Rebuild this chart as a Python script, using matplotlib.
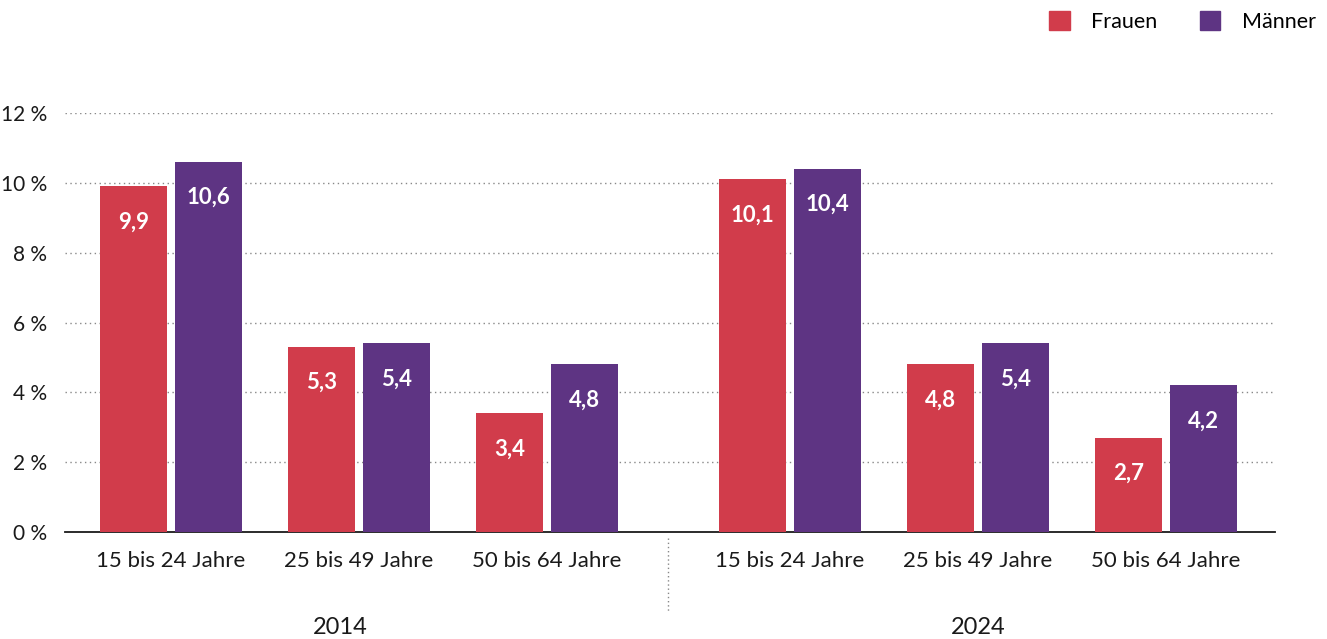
import numpy as np
import matplotlib
matplotlib.use("Agg")
import matplotlib.pyplot as plt
from matplotlib.patches import Patch

plt.rcParams['font.family'] = ['Lato', 'DejaVu Sans']

# Daten
years = ["2014", "2024"]
age_groups = ["15 bis 24 Jahre", "25 bis 49 Jahre", "50 bis 64 Jahre"]
frauen = [9.9, 5.3, 3.4, 10.1, 4.8, 2.7]
maenner = [10.6, 5.4, 4.8, 10.4, 5.4, 4.2]
y_ticks = [0, 2, 4, 6, 8, 10, 12]

red = "#D13C4B"
purple = "#5E3483"
txt = "#1a1a1a"

# Positionen: zwei Gruppen mit Lücke
group_gap = 3.29
x = np.concatenate([np.arange(3), np.arange(3) + group_gap])
w = 0.357
off = 0.2

fig = plt.figure(figsize=(13.27, 6.39), dpi=100)
ax = fig.add_axes([0.049, 0.1674, 0.912, 0.6557])

ax.bar(x - off, frauen, w, color=red, zorder=3)
ax.bar(x + off, maenner, w, color=purple, zorder=3)

# Werte in den Balken
for xs, vals in [(x - off, frauen), (x + off, maenner)]:
    for xi, v in zip(xs, vals):
        ax.text(xi, v - 1.02, f"{v:.1f}".replace(".", ","), ha='center', va='center',
                color='white', fontsize=16, fontweight='bold', zorder=4)

ax.set_ylim(0, 12)
ax.set_xlim(-0.564, 5.872)
ax.set_yticks(y_ticks)
ax.set_yticklabels([f"{t} %" for t in y_ticks], fontsize=15, color=txt)
ax.tick_params(axis='y', length=0, pad=13)

ax.set_xticks(x)
ax.set_xticklabels(age_groups * 2, fontsize=16, color=txt)
ax.tick_params(axis='x', length=0, pad=14)

for t in y_ticks[1:]:
    ax.axhline(t, color='#888888', lw=1.0, ls=(0, (1, 2.5)), zorder=1)

for s in ['top', 'right', 'left']:
    ax.spines[s].set_visible(False)
ax.spines['bottom'].set_color(txt)
ax.spines['bottom'].set_linewidth(1.3)

# Jahreslabels und Trenner
ax.text(0.9, -0.229, years[0], transform=ax.get_xaxis_transform(),
        ha='center', va='center', fontsize=17, color=txt)
ax.text(1 + group_gap, -0.229, years[1], transform=ax.get_xaxis_transform(),
        ha='center', va='center', fontsize=17, color=txt)
sep = (2 + group_gap) / 2
ax.plot([sep, sep], [-0.015, -0.19], transform=ax.get_xaxis_transform(),
        color='#888888', lw=1.0, ls=(0, (1, 2)), clip_on=False)

handles = [Patch(color=red, label="Frauen"), Patch(color=purple, label="Männer")]
fig.legend(handles=handles, loc='upper right', bbox_to_anchor=(1.006, 1.0125), ncol=2,
           frameon=False, fontsize=15.5, handlelength=0.95, handleheight=0.95,
           handletextpad=1.0, columnspacing=1.95)

fig.savefig("out.png", dpi=100)
